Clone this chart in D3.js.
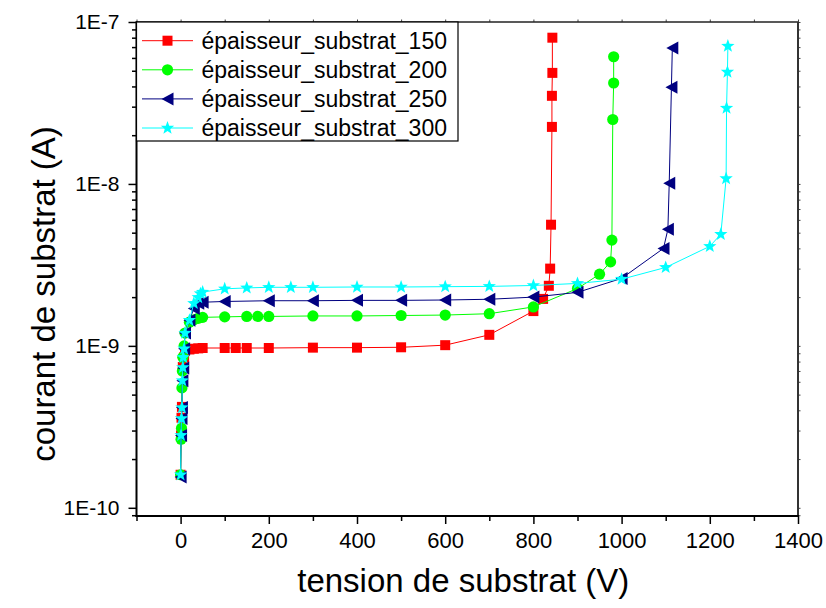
<!DOCTYPE html>
<html><head><meta charset="utf-8">
<script src="https://cdn.jsdelivr.net/npm/d3@7"></script>
<style>body{margin:0;background:#fff}svg{display:block}text{font-family:"Liberation Sans",Arial,sans-serif;fill:#000}</style>
</head><body><svg id="c" width="826" height="608"></svg>
<script>
// ---- data ----
const seriesNames = ["épaisseur_substrat_150","épaisseur_substrat_200","épaisseur_substrat_250","épaisseur_substrat_300"];
const seriesColors = ["#ff0000","#00ff00","#000080","#00ffff"];
const seriesMarkers = ["square","circle","triangle","star"];

const v150 = [0,1,2,3,5,8,10,20,30,40,50,100,125,150,200,300,400,500,600,700,800,822,835,838,840,842,842,843,843];
const i150 = [1.6e-10,2.8e-10,3.6e-10,4.2e-10,7.4e-10,8.5e-10,9.3e-10,9.5e-10,9.6e-10,9.65e-10,9.7e-10,9.7e-10,9.7e-10,9.7e-10,9.7e-10,9.75e-10,9.75e-10,9.8e-10,1.01e-9,1.17e-9,1.64e-9,1.95e-9,2.35e-9,3.0e-9,5.6e-9,2.25e-8,3.5e-8,4.85e-8,8.0e-8];

const v200 = [0,1,2,3,4,5,8,10,20,30,40,50,100,150,175,200,300,400,500,600,700,800,900,950,975,978,980,982,982];
const i200 = [1.6e-10,2.65e-10,3.1e-10,5.5e-10,7e-10,8.5e-10,1.0e-9,1.2e-9,1.4e-9,1.45e-9,1.48e-9,1.5e-9,1.51e-9,1.52e-9,1.52e-9,1.52e-9,1.53e-9,1.53e-9,1.54e-9,1.55e-9,1.58e-9,1.74e-9,2.26e-9,2.77e-9,3.3e-9,4.5e-9,2.5e-8,4.2e-8,6.1e-8];

const v250 = [0,1,2,3,4,6,8,10,20,30,40,50,100,200,300,400,500,600,700,800,900,1000,1095,1105,1108,1113,1115];
const i250 = [1.55e-10,2.8e-10,3.56e-10,4.16e-10,6.1e-10,7.3e-10,9.6e-10,1.2e-9,1.44e-9,1.7e-9,1.83e-9,1.86e-9,1.88e-9,1.9e-9,1.9e-9,1.91e-9,1.91e-9,1.92e-9,1.94e-9,2.0e-9,2.14e-9,2.61e-9,4.0e-9,5.25e-9,1.01e-8,3.96e-8,6.9e-8];

const v300 = [0,1,2,3,4,5,6,8,10,20,30,40,45,50,100,150,200,250,300,400,500,600,700,800,900,1000,1100,1200,1225,1237,1238,1240,1241];
const i300 = [1.6e-10,2.8e-10,3.56e-10,4.16e-10,6.1e-10,7.35e-10,8.5e-10,9.6e-10,1.2e-9,1.44e-9,1.83e-9,1.99e-9,2.1e-9,2.15e-9,2.25e-9,2.28e-9,2.3e-9,2.3e-9,2.3e-9,2.31e-9,2.31e-9,2.32e-9,2.33e-9,2.36e-9,2.43e-9,2.58e-9,3.05e-9,4.12e-9,4.89e-9,1.08e-8,2.94e-8,4.91e-8,7.1e-8];

const xMajorTicks = [0,200,400,600,800,1000,1200,1400];
const xMinorTicks = [-100,100,300,500,700,900,1100,1300];
const yMajorTicks = [1e-10,1e-9,1e-8,1e-7];
const yMajorLabels = ["1E-10","1E-9","1E-8","1E-7"];
const xDomain = [-100,1400];
const yDomain = [8.9e-11,1e-7];
const xTitle = "tension de substrat (V)";
const yTitle = "courant de substrat (A)";

// ---- layout ----
const L=136.5, R=798, T=22, B=516;
const svg = d3.select("#c");
const x = d3.scaleLinear().domain(xDomain).range([L,R]);
const y = d3.scaleLog().domain(yDomain).range([B,T]);

const yMinor = [];
for (let e=-11;e<=-8;e++) for (let m=2;m<=9;m++){ const v=m*Math.pow(10,e); if (v>=yDomain[0]&&v<=yDomain[1]) yMinor.push(v); }

// axes
const gx = svg.append("g").attr("transform",`translate(0,${B})`)
  .call(d3.axisBottom(x).tickValues(xMajorTicks).tickSize(8).tickPadding(6).tickFormat(d3.format("d")));
gx.select(".domain").remove();
gx.selectAll("text").attr("font-size",22).attr("font-family","Liberation Sans, Arial, sans-serif").attr("dy","0.8em");
gx.selectAll("line").attr("stroke-width",1.5);
const gxm = svg.append("g").attr("transform",`translate(0,${B})`)
  .call(d3.axisBottom(x).tickValues(xMinorTicks).tickSize(5).tickFormat(""));
gxm.select(".domain").remove(); gxm.selectAll("line").attr("stroke-width",1.5);

const gy = svg.append("g").attr("transform",`translate(${L},0)`)
  .call(d3.axisLeft(y).tickValues(yMajorTicks).tickSize(8).tickPadding(9).tickFormat((d,i)=>yMajorLabels[i]));
gy.select(".domain").remove();
gy.selectAll("text").attr("font-size",21).attr("font-family","Liberation Sans, Arial, sans-serif");
gy.selectAll("line").attr("stroke-width",1.5);
const gym = svg.append("g").attr("transform",`translate(${L},0)`)
  .call(d3.axisLeft(y).tickValues(yMinor).tickSize(4.5).tickFormat(""));
gym.select(".domain").remove(); gym.selectAll("line").attr("stroke-width",1.5);

// right / top small ticks
const gyr = svg.append("g").attr("transform",`translate(${R},0)`)
  .call(d3.axisRight(y).tickValues(yMajorTicks.concat(yMinor)).tickSize(2.5).tickFormat(""));
gyr.select(".domain").remove(); gyr.selectAll("line").attr("stroke","#444");
const gxt = svg.append("g").attr("transform",`translate(0,${T})`)
  .call(d3.axisTop(x).tickValues(xMajorTicks.concat(xMinorTicks)).tickSize(2.5).tickFormat(""));
gxt.select(".domain").remove(); gxt.selectAll("line").attr("stroke","#444");

// frame
svg.append("line").attr("x1",L).attr("x2",R).attr("y1",T).attr("y2",T).attr("stroke","#222").attr("stroke-width",1.5);
svg.append("line").attr("x1",R).attr("x2",R).attr("y1",T).attr("y2",B).attr("stroke","#333").attr("stroke-width",2);
svg.append("line").attr("x1",L).attr("x2",L).attr("y1",T-0.75).attr("y2",B+1).attr("stroke","#000").attr("stroke-width",2);
svg.append("line").attr("x1",L-1).attr("x2",R+1).attr("y1",B).attr("y2",B).attr("stroke","#000").attr("stroke-width",2);

// titles
svg.append("text").attr("x",(L+R)/2-4).attr("y",592).attr("text-anchor","middle").attr("font-size",33).text(xTitle);
svg.append("text").attr("transform","translate(55,294) rotate(-90)").attr("text-anchor","middle").attr("font-size",33).text(yTitle);

// markers
function markerPath(kind){
  if(kind==="square") return "M-5,-5H5V5H-5Z";
  if(kind==="circle") return d3.symbol(d3.symbolCircle, Math.PI*5.6*5.6)();
  if(kind==="triangle") return "M-6,0L6,-6.5L6,6.5Z";
  // star
  const pts=[]; const ro=7, ri=2.9;
  for(let k=0;k<10;k++){ const a=-Math.PI/2+k*Math.PI/5; const r=k%2?ri:ro; pts.push([r*Math.cos(a),r*Math.sin(a)]); }
  return "M"+pts.map(p=>p[0].toFixed(2)+","+p[1].toFixed(2)).join("L")+"Z";
}

const allV=[v150,v200,v250,v300], allI=[i150,i200,i250,i300];
const line = d3.line().x(d=>x(d[0])).y(d=>y(d[1]));
const plot = svg.append("g");
seriesNames.forEach((name,s)=>{
  const data = allV[s].map((v,k)=>[v,allI[s][k]]);
  const g = plot.append("g");
  g.append("path").datum(data).attr("d",line).attr("fill","none").attr("stroke",seriesColors[s]).attr("stroke-width",1);
  g.selectAll("path.m").data(data).join("path").attr("class","m")
    .attr("transform",d=>`translate(${x(d[0])},${y(d[1])})`)
    .attr("d",markerPath(seriesMarkers[s])).attr("fill",seriesColors[s]);
});

// legend
const lg = svg.append("g");
lg.append("rect").attr("x",L).attr("y",T).attr("width",458-L).attr("height",141-T).attr("fill","#fff").attr("stroke","#000").attr("stroke-width",1.2);
seriesNames.forEach((name,s)=>{
  const cy = 40.7 + s*29.1;
  lg.append("line").attr("x1",142).attr("x2",193).attr("y1",cy).attr("y2",cy).attr("stroke",seriesColors[s]).attr("stroke-width",1);
  lg.append("path").attr("transform",`translate(167.5,${cy})`).attr("d",markerPath(seriesMarkers[s])).attr("fill",seriesColors[s]);
  lg.append("text").attr("x",201.5).attr("y",cy+8).attr("font-size",23).text(name);
});
</script></body></html>
